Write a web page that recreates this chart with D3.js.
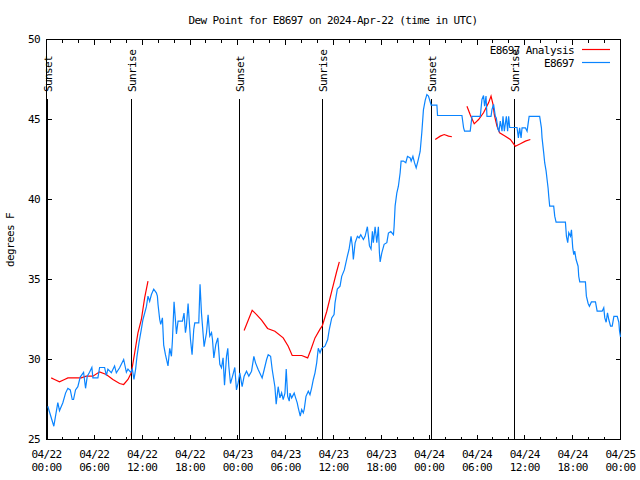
<!DOCTYPE html>
<html>
<head>
<meta charset="utf-8">
<script src="https://cdn.jsdelivr.net/npm/d3@7"></script>
<style>
  html, body { margin: 0; padding: 0; background: #fff; }
  text { font-family: "DejaVu Sans Mono", "Liberation Mono", monospace; font-size: 11px; letter-spacing: -0.6px; fill: #000; }
</style>
</head>
<body>
<svg id="chart" width="640" height="480"></svg>
<script>
// ---- DATA (hours since 2024-04-22 00:00 UTC, dew point in °F) ----
const obsHours = [0.16,0.92,1.42,1.63,2.05,2.39,2.68,2.98,3.23,3.39,3.64,3.93,4.23,4.65,4.90,5.11,5.40,5.69,5.82,6.45,6.66,7.29,7.50,7.70,8.13,8.54,8.76,9.17,9.68,10.02,10.22,10.56,10.77,10.97,11.18,11.35,11.60,11.90,12.10,12.53,12.73,12.94,13.16,13.45,13.78,13.91,13.99,14.20,14.33,14.54,14.70,14.92,15.24,15.46,15.67,15.79,16.00,16.30,16.50,17.05,17.25,17.43,17.55,17.76,18.06,18.26,18.47,18.60,19.10,19.26,19.44,19.77,20.07,20.27,20.48,20.70,20.82,20.99,21.24,21.49,21.74,21.95,22.15,22.33,22.58,22.74,22.87,23.08,23.34,23.62,23.83,24.04,24.25,24.54,24.79,25.09,25.38,25.72,26.01,26.22,26.55,27.05,27.31,27.61,27.81,28.11,28.31,28.65,28.81,29.06,29.28,29.49,29.69,29.91,30.07,30.25,30.45,30.54,30.75,31.07,31.25,31.45,31.58,31.83,32.01,32.21,32.33,32.55,32.84,33.05,33.26,33.47,33.68,33.89,34.09,34.31,34.52,34.93,35.27,35.47,35.78,36.07,36.19,36.48,36.82,37.03,37.36,37.74,37.95,38.20,38.37,38.49,38.71,39.00,39.21,39.42,39.75,39.96,40.25,40.51,40.71,40.88,41.00,41.22,41.43,41.63,41.76,41.85,42.06,42.35,42.69,42.89,43.19,43.52,43.60,43.73,43.94,44.14,44.36,44.48,44.77,45.07,45.28,45.62,45.74,45.96,46.16,46.37,46.59,46.87,47.08,47.28,47.50,47.71,47.91,48.25,48.97,49.05,52.11,52.32,52.44,53.15,53.37,54.41,54.62,54.82,54.95,55.13,55.25,55.76,55.88,56.08,56.30,56.42,56.63,56.76,56.92,57.14,57.26,57.43,57.68,57.84,57.97,58.10,59.02,59.19,59.35,59.53,59.65,60.07,60.28,60.54,61.86,62.08,62.16,62.37,62.49,62.67,62.79,62.92,63.00,63.12,63.62,63.75,63.92,65.09,65.22,65.38,65.51,65.72,65.85,66.01,66.14,66.26,66.43,66.68,66.76,66.89,67.60,67.72,67.94,68.10,68.35,68.86,69.07,69.70,69.90,70.03,70.20,70.37,70.53,70.75,70.96,71.17,71.59,71.79,71.88,72.00];
const obsValues = [27.08,25.83,27.3,26.8,27.3,27.9,28.2,28.1,27.5,27.5,28.1,28.3,28.9,29.2,28.2,28.95,29.2,29.5,28.85,28.85,29.5,29.5,29.0,29.4,29.17,29.6,29.17,29.48,30.0,29.2,29.4,29.2,29.4,28.75,29.4,30.2,31.04,31.9,32.5,33.3,33.96,33.64,34.06,34.4,34.17,33.96,33.44,32.5,32.19,32.6,30.9,30.3,29.6,30.7,30.2,31.15,33.6,31.6,32.4,32.4,32.9,31.67,32.08,33.5,31.25,30.3,31.875,32.29,32.29,34.7,32.9,30.8,31.67,32.8,31.46,31.67,31.25,30.1,30.94,31.35,29.7,29.48,30.1,28.4,30.2,30.7,29.58,28.5,28.96,29.5,28.1,28.54,29.17,28.3,28.96,29.27,28.96,29.27,30.2,29.79,29.375,28.85,29.375,30.0,30.3,30.2,29.375,28.3,27.2,28.3,27.6,27.92,27.5,27.9,29.4,27.7,27.4,27.9,27.6,27.9,27.6,27.29,26.98,26.46,26.875,26.67,26.9,27.7,28.02,27.8,28.23,28.75,29.17,29.79,30.7,30.42,30.7,30.83,31.25,31.875,32.6,32.81,33.54,34.4,34.58,35.2,35.6,36.46,36.875,37.7,37.08,36.25,37.29,37.7,37.6,37.8,37.5,37.7,38.3,37.1,36.9,38.02,37.3,38.3,37.3,38.3,36.67,36.1,36.67,37.2,37.3,37.9,38.0,37.8,38.3,39.6,40.4,40.83,41.67,42.4,42.4,42.3,42.7,42.6,42.4,42.7,42.3,41.98,42.4,43.0,44.2,45.6,46.2,46.56,46.46,45.9,45.9,45.25,45.25,44.48,44.27,44.27,45.2,45.2,46.25,46.5,45.83,46.46,45.2,45.2,45.625,45.94,45.2,45.1,44.4,44.27,44.9,44.27,45.2,44.27,45.2,44.27,45.2,44.5,44.5,43.85,44.48,43.85,44.48,44.48,44.27,45.2,45.2,44.48,43.85,42.9,42.3,41.77,41.25,40.7,40.2,39.58,39.58,38.96,38.58,38.58,37.7,37.3,37.92,37.7,38.1,36.98,36.56,36.77,36.25,35.83,35.2,34.85,34.85,33.96,33.5,33.33,33.6,33.6,33.02,33.02,33.23,32.6,32.33,32.92,32.5,32.08,32.08,32.7,32.7,32.33,31.77,31.42];

// Analysis series; null marks a gap in the record
const anaHours = [0.59,1.01,1.63,2.26,2.68,4.36,4.99,5.82,6.66,7.50,8.33,9.17,9.68,10.22,10.64,11.06,11.47,11.90,12.31,12.73,
  null,
  24.79,25.80,26.35,26.98,27.73,28.65,29.69,30.32,30.82,32.01,32.76,33.17,33.68,34.31,34.59,35.15,35.78,36.40,36.73,
  null,
  48.76,49.39,49.89,50.43,50.85,
  null,
  52.74,53.15,53.65,54.20,54.82,55.45,55.76,56.01,56.17,56.51,56.84,57.55,58.18,58.81,59.44,60.07,60.69];
const anaValues = [28.85,28.75,28.6,28.75,28.85,28.85,28.96,28.96,29.23,29.06,28.75,28.5,28.44,28.75,29.17,30.42,31.67,32.5,33.85,34.9,
  null,
  31.81,33.08,32.81,32.46,31.94,31.77,31.35,30.83,30.25,30.25,30.1,30.625,31.35,31.9,32.1,33.0,34.27,35.5,36.1,
  null,
  43.75,43.96,44.06,43.96,43.92,
  null,
  45.83,45.3,44.73,45.0,45.42,46.04,46.46,45.94,45.3,44.58,44.17,43.96,43.75,43.33,43.48,43.65,43.75];

const sunHours = [0.08, 10.6, 24.16, 34.6, 48.3, 58.7];
const sunLabels = ["Sunset", "Sunrise", "Sunset", "Sunrise", "Sunset", "Sunrise"];
const sunLineTop = 46.3;

const yTicks = [25, 30, 35, 40, 45, 50];
const seriesNames = ["E8697 Analysis", "E8697"];
const seriesColors = ["#ff0000", "#0a84ff"];
const titleText = "Dew Point for E8697 on 2024-Apr-22 (time in UTC)";
const yLabel = "degrees F";

// ---- CHART ----
const startMs = Date.UTC(2024, 3, 22);
const toDate = h => new Date(startMs + h * 3600e3);

const svg = d3.select("#chart");
const L = 46.5, R = 620.5, T = 39.5, B = 439.5;

const x = d3.scaleUtc().domain([toDate(0), toDate(72)]).range([L, R]);
const y = d3.scaleLinear().domain([25, 50]).range([B, T]);

// frame
svg.append("rect").attr("x", L).attr("y", T).attr("width", R - L).attr("height", B - T)
  .attr("fill", "none").attr("stroke", "#000").attr("shape-rendering", "crispEdges");

// x ticks (bottom + top)
const minorT = d3.utcHour.every(2).range(toDate(0), toDate(72.01));
const majorT = d3.utcHour.every(6).range(toDate(0), toDate(72.01));
const tickG = svg.append("g").attr("stroke", "#000").attr("shape-rendering", "crispEdges");
minorT.forEach(d => {
  const xx = Math.round(x(d) - 0.5) + 0.5;
  const len = (d.getUTCHours() % 6 === 0) ? 5 : 3;
  tickG.append("line").attr("x1", xx).attr("x2", xx).attr("y1", B).attr("y2", B - len);
  tickG.append("line").attr("x1", xx).attr("x2", xx).attr("y1", T).attr("y2", T + len);
});
// y ticks (left + right)
yTicks.forEach(v => {
  const yy = y(v);
  tickG.append("line").attr("x1", L).attr("x2", L + 5).attr("y1", yy).attr("y2", yy);
  tickG.append("line").attr("x1", R).attr("x2", R - 5).attr("y1", yy).attr("y2", yy);
});

// x tick labels
const fDay = d3.utcFormat("%m/%d"), fHour = d3.utcFormat("%H:%M");
majorT.forEach(d => {
  const t = svg.append("text").attr("text-anchor", "middle").attr("x", x(d));
  t.append("tspan").attr("x", x(d)).attr("y", 458).text(fDay(d));
  t.append("tspan").attr("x", x(d)).attr("y", 471).text(fHour(d));
});
// y tick labels
yTicks.forEach(v => {
  svg.append("text").attr("x", 40).attr("y", y(v)).attr("dy", "0.35em")
    .attr("text-anchor", "end").text(v);
});

// title & axis label
svg.append("text").attr("x", 333).attr("y", 24).attr("text-anchor", "middle").text(titleText);
svg.append("text").attr("transform", "translate(14,240) rotate(-90)")
  .attr("text-anchor", "middle").text(yLabel);

// sunrise / sunset markers
sunHours.forEach((h, i) => {
  const xx = Math.round(x(toDate(h)) - 0.5) + 0.5;
  svg.append("line").attr("x1", xx).attr("x2", xx).attr("y1", y(sunLineTop)).attr("y2", B)
    .attr("stroke", "#000").attr("shape-rendering", "crispEdges");
  svg.append("text").attr("transform", `translate(${xx + 4},92) rotate(-90)`)
    .attr("text-anchor", "start").text(sunLabels[i]);
});

// data lines
const obs = obsHours.map((h, i) => ({ t: toDate(h), v: obsValues[i] }));
const ana = anaHours.map((h, i) => ({ t: h === null ? null : toDate(h), v: anaValues[i] }));

const line = d3.line().defined(d => d.v !== null && d.t !== null).x(d => x(d.t)).y(d => y(d.v));

svg.append("path").datum(ana).attr("d", line).attr("fill", "none")
  .attr("stroke", seriesColors[0]).attr("stroke-width", 1.2);
svg.append("path").datum(obs).attr("d", line).attr("fill", "none")
  .attr("stroke", seriesColors[1]).attr("stroke-width", 1.2);

// legend
seriesNames.forEach((name, i) => {
  const yy = 50 + i * 13;
  svg.append("text").attr("x", 574).attr("y", yy).attr("dy", "0.35em")
    .attr("text-anchor", "end").text(name);
  svg.append("line").attr("x1", 582).attr("x2", 610).attr("y1", yy - 0.5).attr("y2", yy - 0.5)
    .attr("stroke", seriesColors[i]).attr("stroke-width", 1.2);
});
</script>
</body>
</html>
